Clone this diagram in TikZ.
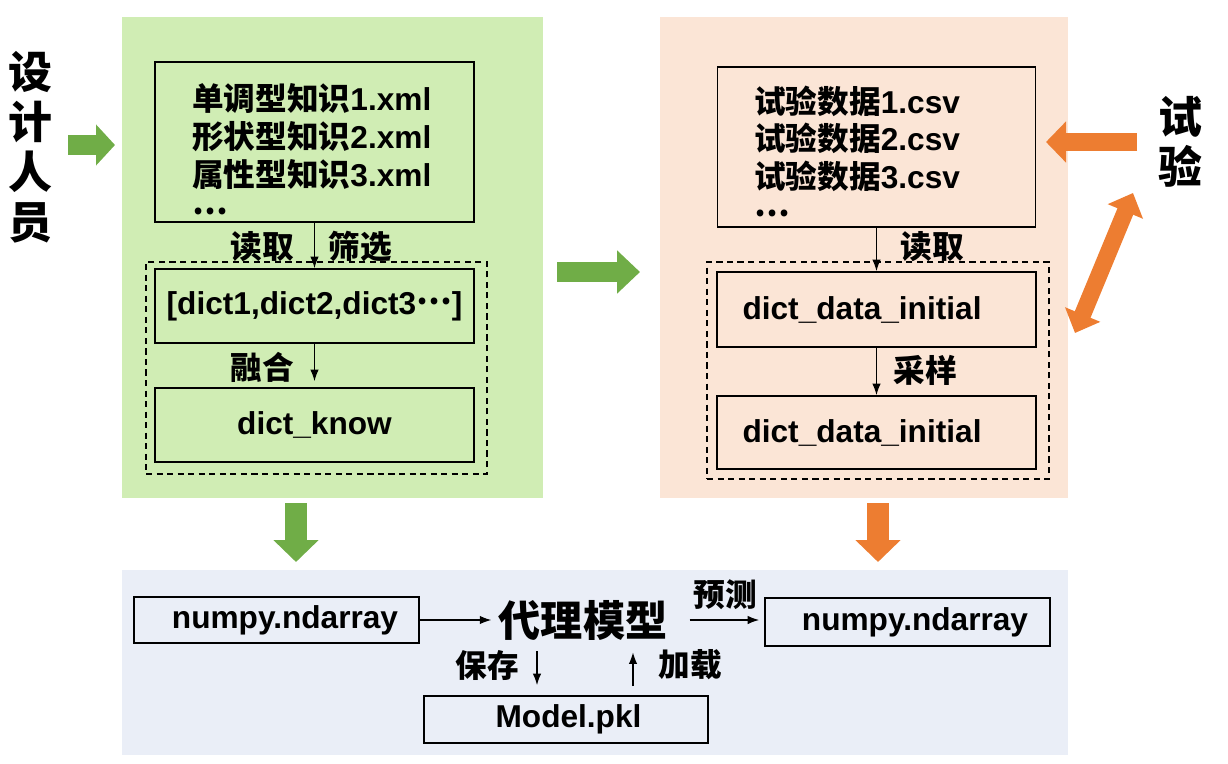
\documentclass[tikz,border=0pt]{standalone}
\usepackage{fontspec}
\setmainfont{Liberation Sans}
\newfontfamily\cjk{Noto Sans CJK SC}
\usetikzlibrary{arrows.meta}
\definecolor{gpanel}{HTML}{D0EDB4}
\definecolor{opanel}{HTML}{FBE5D6}
\definecolor{bpanel}{HTML}{EAEEF7}
\definecolor{garrow}{HTML}{70AD47}
\definecolor{oarrow}{HTML}{ED7D31}
\newcommand{\zh}[1]{{\cjk\bfseries #1}}
\newcommand{\mdots}{\smash{\raisebox{0.3em}{\zh{…}}}}
\def\px{0.02cm}
\tikzset{
  panel/.style={inner sep=0pt, outer sep=0pt},
  box/.style={draw=black, line width=1pt, inner sep=0pt, minimum width=319*\px, minimum height=74*\px, font=\fontsize{18}{21.5}\selectfont\bfseries},
  dbox/.style={draw=black, line width=0.7pt, dash pattern=on 3.5pt off 2.5pt, inner sep=0pt},
  lst/.style={align=left, inner sep=0pt, font=\fontsize{18}{21.5}\selectfont\bfseries},
  lab/.style={inner sep=0pt, font=\fontsize{18}{21.5}\selectfont\cjk\bfseries},
  big/.style={align=center, inner sep=0pt, font=\fontsize{25}{28.5}\selectfont\cjk\bfseries},
  model/.style={inner sep=4pt, font=\fontsize{24}{28}\selectfont\cjk\bfseries},
  arr/.style={line width=0.7pt, -{Latex[length=2.3mm,width=1.7mm]}},
  blk/.style={line width=0.4cm, -{Triangle[length=0.4cm,width=0.82cm]}},
}
\begin{document}
\begin{tikzpicture}[x=0.02cm,y=-0.02cm]
  \useasboundingbox (0,0) rectangle (1228,764);
  \node[panel,fill=gpanel,minimum width=421*\px,minimum height=481*\px] (lp) at (332.5,257.5) {};
  \node[panel,fill=opanel,minimum width=408*\px,minimum height=481*\px] (rp) at (864,257.5) {};
  \node[panel,fill=bpanel,minimum width=946*\px,minimum height=185*\px] (bp) at (595,662.5) {};

  \node[big] (des) at (30,147) {设\\计\\人\\员};
  \node[big] (exp) at (1180,142) {试\\验};

  \coordinate (g1a) at (68,145);
  \coordinate (g1b) at (115,145);
  \coordinate (g2a) at (557,272);
  \coordinate (g2b) at (640,272);
  \coordinate (g3a) at (296,503);
  \coordinate (g3b) at (296,562);
  \coordinate (o1a) at (878,503);
  \coordinate (o1b) at (878,562);
  \coordinate (o2a) at (1137,142);
  \coordinate (o2b) at (1046,142);
  \coordinate (o3a) at (1075,333);
  \coordinate (o3b) at (1133,193);
  \draw[blk,garrow,-{Triangle[length=0.38cm,width=0.8cm]}] (g1a) -- (g1b);
  \draw[blk,garrow,-{Triangle[length=0.46cm,width=0.84cm]}] (g2a) -- (g2b);
  \draw[blk,garrow,line width=0.44cm,-{Triangle[length=0.44cm,width=0.88cm]}] (g3a) -- (g3b);
  \draw[blk,oarrow,line width=0.44cm,-{Triangle[length=0.44cm,width=0.88cm]}] (o1a) -- (o1b);
  \draw[blk,oarrow,line width=0.38cm,-{Triangle[length=0.4cm,width=0.8cm]}] (o2a) -- (o2b);
  \draw[blk,oarrow,line width=0.34cm,{Triangle[length=0.4cm,width=0.74cm]}-{Triangle[length=0.4cm,width=0.74cm]}] (o3a) -- (o3b);

  \node[box,minimum height=160*\px] (kf) at (314.5,142) {};
  \node[lst,anchor=west] (kft) at (192,154) {\zh{单调型知识}1.xml\\\zh{形状型知识}2.xml\\\zh{属性型知识}3.xml\\\mdots};
  \node[dbox,minimum width=341*\px,minimum height=212*\px] (ld) at (316.5,368) {};
  \node[box] (dl) at (314.5,306) {[dict1,dict2,dict3\mdots]};
  \node[box] (dk) at (314.5,425) {dict\_know};
  \draw[arr] (kf) -- (dl);
  \draw[arr,shorten >=0.12cm] (dl) -- (dk);
  \node[lab] (rd1) at (262,247) {读取};
  \node[lab] (sx) at (360,247) {筛选};
  \node[lab] (rh) at (262,367) {融合};

  \node[box,minimum width=318*\px,minimum height=160*\px] (tf) at (876.5,147) {};
  \node[lst,anchor=west] (tft) at (754,156) {\zh{试验数据}1.csv\\\zh{试验数据}2.csv\\\zh{试验数据}3.csv\\\mdots};
  \node[dbox,minimum width=342*\px,minimum height=217*\px] (rd) at (878,370.5) {};
  \node[box,minimum height=75*\px,text width=5.36cm,align=left,inner xsep=0.5cm] (r1) at (876.5,309.5) {dict\_data\_initial};
  \node[box,minimum height=73*\px,text width=5.36cm,align=left,inner xsep=0.5cm] (r2) at (876.5,432.5) {dict\_data\_initial};
  \draw[arr] (tf) -- (r1);
  \draw[arr] (r1) -- (r2);
  \node[lab] (rd2) at (932,247) {读取};
  \node[lab] (cy) at (925,370) {采样};

  \node[box,minimum width=285*\px,minimum height=46*\px] (na) at (276.5,620) {\hspace*{0.34cm}numpy.ndarray};
  \node[model] (sm) at (583,620) {代理模型};
  \node[box,minimum width=285*\px,minimum height=48*\px] (nb) at (907.5,622) {\hspace*{0.3cm}numpy.ndarray};
  \node[box,minimum width=284*\px,minimum height=47*\px] (mp) at (566,719.5) {\hspace*{0.1cm}Model.pkl};
  \draw[arr] (na) -- (sm);
  \draw[arr,shorten <=0.3cm,shorten >=0.1cm] (sm.east) -- (sm.east -| nb.west);
  \draw[arr,shorten <=0.08cm,shorten >=0.2cm] ([xshift=-46*\px]sm.south) -- ([xshift=-46*\px]sm.south |- mp.north);
  \draw[arr,shorten <=0.18cm,shorten >=0.1cm] ([xshift=50*\px]sm.south |- mp.north) -- ([xshift=50*\px]sm.south);
  \node[lab] (yc) at (725,595) {预测};
  \node[lab] (bc) at (487,665) {保存};
  \node[lab] (jz) at (690,665) {加载};
\end{tikzpicture}
\end{document}
